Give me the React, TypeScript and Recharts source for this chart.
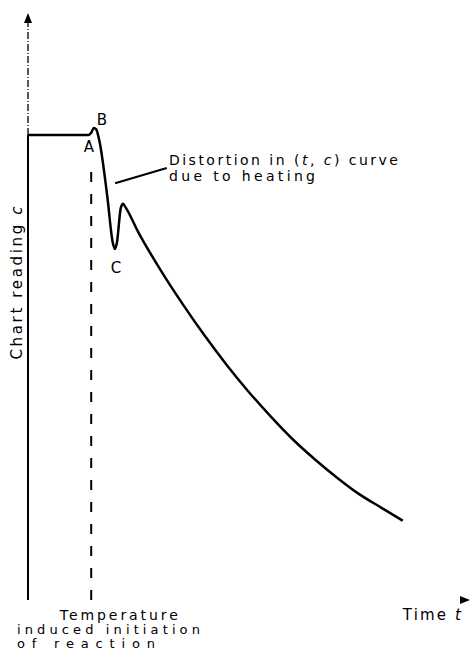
import { ComposedChart, Line, XAxis, YAxis, ReferenceLine, ReferenceDot } from 'recharts';

// time t (arbitrary units, 0..100)
const timeValues = [0, 13.6, 14.3, 14.9, 15.4, 16.1, 17.9, 19.2, 19.7, 20.1, 21.0, 21.5, 21.9, 25, 30, 35, 40, 45, 50, 55, 60, 65, 70, 75, 80, 84.8];
// chart reading c
const readingValues = [79.2, 79.2, 79.6, 80.4, 80.2, 78.4, 69.0, 60.8, 59.8, 60.8, 66.8, 67.5, 67.1, 62.6, 56.2, 50.4, 45.0, 40.0, 35.4, 31.2, 27.3, 23.9, 20.8, 18.0, 15.7, 13.5];

const initiationTime = 14.3;
const initiationTop = 74.1;
const baseline = 79.2;
const leaderFrom = { t: 19.7, c: 71.0 };
const leaderTo = { t: 31.4, c: 73.6 };

const data = timeValues.map((t, i) => ({ t, c: readingValues[i] }));

const FONT = '"DejaVu Sans", sans-serif';

type Note = {
  t: number;
  c: number;
  anchor: 'start' | 'middle' | 'end';
  parts: { text: string; italic?: boolean }[];
  rotate?: boolean;
  width?: number;
  size?: number;
};

const notes: Note[] = [
  { t: 16.7, c: 81.8, anchor: 'middle', parts: [{ text: 'B' }] },
  { t: 13.8, c: 77.2, anchor: 'middle', parts: [{ text: 'A' }] },
  { t: 19.9, c: 56.6, anchor: 'middle', parts: [{ text: 'C' }] },
  { t: 31.9, c: 75.0, anchor: 'start', width: 229, size: 14, parts: [{ text: 'Distortion in (' }, { text: 't', italic: true }, { text: ', ' }, { text: 'c', italic: true }, { text: ') curve' }] },
  { t: 31.9, c: 72.2, anchor: 'start', width: 146, size: 14, parts: [{ text: 'due to heating' }] },
  { t: 84.8, c: -2.6, anchor: 'start', width: 58, parts: [{ text: 'Time ' }, { text: 't', italic: true }] },
  { t: 7.2, c: -2.6, anchor: 'start', width: 118, size: 14, parts: [{ text: 'Temperature' }] },
  { t: -2.5, c: -5.0, anchor: 'start', width: 183, size: 13, parts: [{ text: 'induced initiation' }] },
  { t: -2.5, c: -7.3, anchor: 'start', width: 138, size: 13, parts: [{ text: 'of reaction' }] },
  { t: -2.5, c: 54.0, anchor: 'middle', width: 153, parts: [{ text: 'Chart reading ' }, { text: 'c', italic: true }], rotate: true },
];

const NoteShape = (note: Note) => (props: any) => {
  const { cx, cy } = props;
  return (
    <text
      x={cx}
      y={cy}
      textAnchor={note.anchor}
      dominantBaseline="central"
      fontFamily={FONT}
      fontSize={note.size ?? 15}
      textLength={note.width}
      lengthAdjust={note.width ? 'spacing' : undefined}
      fill="#000"
      transform={note.rotate ? `rotate(-90 ${cx} ${cy})` : undefined}
    >
      {note.parts.map((p, i) => (
        <tspan key={i} fontStyle={p.italic ? 'italic' : 'normal'}>{p.text}</tspan>
      ))}
    </text>
  );
};

const UpArrow = (props: any) => {
  const { cx, cy } = props;
  return <path d={`M${cx},${cy} L${cx - 4},${cy + 10} L${cx + 4},${cy + 10} Z`} fill="#000" />;
};

const RightArrow = (props: any) => {
  const { cx, cy } = props;
  return <path d={`M${cx},${cy} L${cx - 10},${cy - 4} L${cx - 10},${cy + 4} Z`} fill="#000" />;
};

export default function App() {
  return (
    <div style={{ position: 'absolute', left: 0, top: 0, background: '#fff' }}>
      <ComposedChart
        width={472}
        height={653}
        data={data}
        margin={{ top: 13, right: 2, bottom: 53, left: 28 }}
      >
        <XAxis
          dataKey="t"
          type="number"
          domain={[0, 100]}
          allowDataOverflow
          height={0}
          tick={false}
          tickLine={false}
          axisLine={{ stroke: '#000', strokeWidth: 2 }}
        />
        <YAxis
          type="number"
          domain={[0, 100]}
          allowDataOverflow
          width={0}
          tick={false}
          tickLine={false}
          axisLine={false}
        />
        <ReferenceLine segment={[{ x: 0, y: 0 }, { x: 0, y: baseline }]} stroke="#000" strokeWidth={2} ifOverflow="visible" />
        <ReferenceLine segment={[{ x: 0, y: baseline }, { x: 0, y: 99 }]} stroke="#000" strokeWidth={1.3} strokeDasharray="7 2 1 2" ifOverflow="visible" />
        <ReferenceLine segment={[{ x: initiationTime, y: 0 }, { x: initiationTime, y: initiationTop }]} stroke="#000" strokeWidth={2} strokeDasharray="10 12" ifOverflow="visible" />
        <ReferenceLine segment={[{ x: leaderFrom.t, y: leaderFrom.c }, { x: leaderTo.t, y: leaderTo.c }]} stroke="#000" strokeWidth={2} ifOverflow="visible" />
        <Line
          dataKey="c"
          type="monotone"
          stroke="#000"
          strokeWidth={2.5}
          dot={false}
          activeDot={false}
          isAnimationActive={false}
        />
        <ReferenceDot x={0} y={100} r={0} ifOverflow="visible" shape={UpArrow} />
        <ReferenceDot x={100} y={0} r={0} ifOverflow="visible" shape={RightArrow} />
        {notes.map((n, i) => (
          <ReferenceDot key={i} x={n.t} y={n.c} r={0} ifOverflow="visible" shape={NoteShape(n)} />
        ))}
      </ComposedChart>
    </div>
  );
}
